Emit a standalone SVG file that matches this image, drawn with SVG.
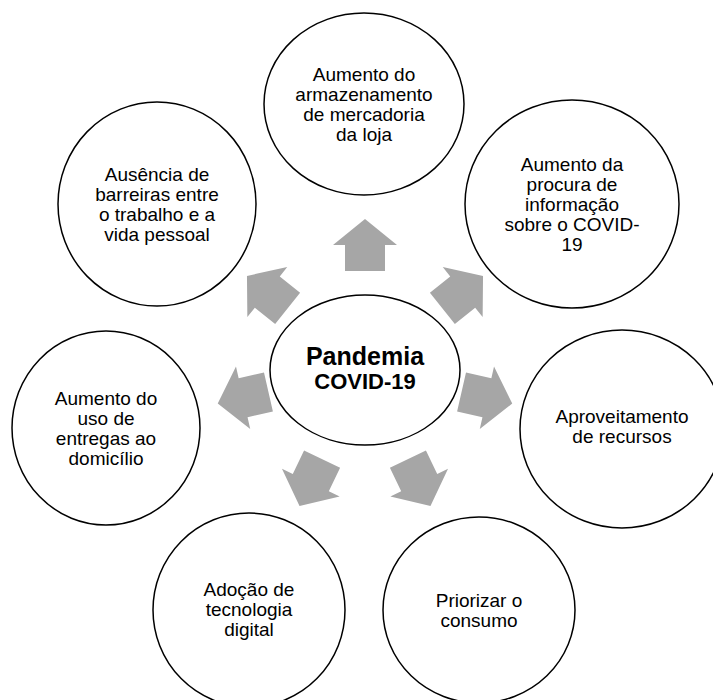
<svg xmlns="http://www.w3.org/2000/svg" width="713" height="700" viewBox="0 0 713 700">
  <defs>
    <style>
      .node { fill: #ffffff; stroke: #000000; stroke-width: 1.5; }
      .label { font-family: "Liberation Sans", Arial, sans-serif; font-size: 19px; fill: #000000; text-anchor: middle; }
      .hub { font-family: "Liberation Sans", Arial, sans-serif; font-weight: bold; fill: #000000; text-anchor: middle; }
      .arrow { fill: #a6a6a6; stroke: none; }
    </style>
    <!-- block arrow pointing along +x, origin at the base of the head -->
    <path id="blockArrow" d="M -26,-20 L 0,-20 L 0,-32 L 26,0 L 0,32 L 0,20 L -26,20 Z"/>
  </defs>

  <rect width="713" height="700" fill="#ffffff"/>

  <!-- radial arrows from the hub -->
  <g id="connectors" class="arrow">
    <use href="#blockArrow" transform="translate(365 245) rotate(-90)"/>
    <use href="#blockArrow" transform="translate(462.7 292.1) rotate(-38.57)"/>
    <use href="#blockArrow" transform="translate(486.9 397.8) rotate(12.86)"/>
    <use href="#blockArrow" transform="translate(419.2 482.6) rotate(64.29)"/>
    <use href="#blockArrow" transform="translate(310.8 482.6) rotate(115.71)"/>
    <use href="#blockArrow" transform="translate(243.1 397.8) rotate(167.14)"/>
    <use href="#blockArrow" transform="translate(267.3 292.1) rotate(218.57)"/>
  </g>

  <g id="hub">
    <ellipse class="node" cx="365" cy="370" rx="95" ry="75"/>
    <text class="hub" x="365" y="365" font-size="25">Pandemia</text>
    <text class="hub" x="365" y="389" font-size="22">COVID-19</text>
  </g>

  <g id="armazenamento">
    <ellipse class="node" cx="364" cy="104" rx="100" ry="91"/>
    <text class="label" x="364" y="81">Aumento do</text>
    <text class="label" x="364" y="101">armazenamento</text>
    <text class="label" x="364" y="121">de mercadoria</text>
    <text class="label" x="364" y="141">da loja</text>
  </g>

  <g id="informacao">
    <ellipse class="node" cx="572" cy="204" rx="107" ry="104"/>
    <text class="label" x="572" y="171">Aumento da</text>
    <text class="label" x="572" y="191">procura de</text>
    <text class="label" x="572" y="211">informação</text>
    <text class="label" x="572" y="231">sobre o COVID-</text>
    <text class="label" x="572" y="251">19</text>
  </g>

  <g id="recursos">
    <ellipse class="node" cx="622" cy="429" rx="102" ry="99"/>
    <text class="label" x="622" y="423">Aproveitamento</text>
    <text class="label" x="622" y="443">de recursos</text>
  </g>

  <g id="consumo">
    <ellipse class="node" cx="479" cy="610" rx="96" ry="93"/>
    <text class="label" x="479" y="607">Priorizar o</text>
    <text class="label" x="479" y="627">consumo</text>
  </g>

  <g id="tecnologia">
    <ellipse class="node" cx="249" cy="610" rx="96" ry="97"/>
    <text class="label" x="249" y="596">Adoção de</text>
    <text class="label" x="249" y="616">tecnologia</text>
    <text class="label" x="249" y="636">digital</text>
  </g>

  <g id="entregas">
    <ellipse class="node" cx="106" cy="428" rx="94" ry="97"/>
    <text class="label" x="106" y="405">Aumento do</text>
    <text class="label" x="106" y="425">uso de</text>
    <text class="label" x="106" y="445">entregas ao</text>
    <text class="label" x="106" y="465">domicílio</text>
  </g>

  <g id="barreiras">
    <ellipse class="node" cx="157" cy="204" rx="99" ry="102"/>
    <text class="label" x="157" y="181">Ausência de</text>
    <text class="label" x="157" y="201">barreiras entre</text>
    <text class="label" x="157" y="221">o trabalho e a</text>
    <text class="label" x="157" y="241">vida pessoal</text>
  </g>
</svg>
